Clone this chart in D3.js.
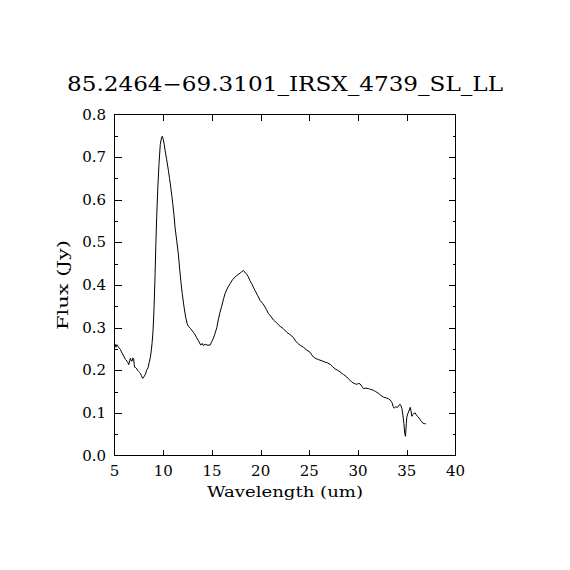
<!DOCTYPE html>
<html><head><meta charset="utf-8">
<script src="https://cdn.jsdelivr.net/npm/d3@7"></script>
<style>body{margin:0;background:#fff}svg{display:block}text{font-family:"DejaVu Serif","Liberation Serif",serif;fill:#000}</style>
</head><body>
<svg id="c" width="570" height="570"></svg>
<script>
const title = "85.2464\u221269.3101_IRSX_4739_SL_LL";
const xLabel = "Wavelength (um)";
const yLabel = "Flux (Jy)";
const xTicks = [5,10,15,20,25,30,35,40];
const yTicks = [0.0,0.1,0.2,0.3,0.4,0.5,0.6,0.7,0.8];
const wavelength = [5.05,5.15,5.25,5.36,5.48,5.6,5.72,5.84,5.97,6.11,6.2,6.28,6.37,6.46,6.55,6.63,6.72,6.8,6.88,6.97,7.02,7.07,7.18,7.3,7.39,7.48,7.56,7.65,7.75,7.83,7.9,8.0,8.16,8.3,8.44,8.56,8.68,8.77,8.85,8.95,9.05,9.16,9.25,9.33,9.45,9.57,9.7,9.82,9.91,10.0,10.1,10.19,10.35,10.53,10.65,10.77,10.88,10.98,11.1,11.21,11.38,11.55,11.68,11.8,11.95,12.07,12.14,12.3,12.45,12.58,12.8,13.0,13.2,13.44,13.6,13.85,14.0,14.1,14.3,14.5,14.81,15.0,15.15,15.3,15.5,15.65,15.83,16.0,16.2,16.35,16.6,16.86,17.1,17.38,17.6,17.89,18.05,18.23,18.45,18.6,18.74,18.9,19.09,19.25,19.43,19.7,19.94,20.2,20.46,20.6,20.8,21.0,21.31,21.6,22.0,22.3,22.69,23.0,23.36,23.6,23.88,24.1,24.39,24.7,25.08,25.25,25.42,25.7,25.93,26.3,26.62,26.9,27.13,27.4,27.65,27.9,28.16,28.5,28.85,29.1,29.36,29.6,29.87,30.05,30.21,30.4,30.55,30.8,31.06,31.3,31.58,31.8,32.09,32.35,32.61,32.9,33.12,33.3,33.47,33.6,33.7,33.85,34.04,34.2,34.32,34.42,34.5,34.6,34.7,34.8,34.87,34.95,35.0,35.1,35.18,35.35,35.45,35.52,35.6,35.69,35.86,35.98,36.1,36.25,36.38,36.5,36.65,36.8,36.96];
const flux = [0.262,0.254,0.260,0.256,0.252,0.249,0.243,0.238,0.232,0.226,0.224,0.221,0.218,0.213,0.222,0.228,0.222,0.221,0.229,0.226,0.214,0.207,0.206,0.203,0.199,0.197,0.195,0.193,0.188,0.184,0.181,0.184,0.190,0.200,0.206,0.218,0.230,0.245,0.262,0.29,0.34,0.42,0.50,0.56,0.63,0.685,0.73,0.745,0.749,0.742,0.73,0.716,0.695,0.669,0.65,0.630,0.610,0.591,0.565,0.536,0.505,0.473,0.44,0.411,0.38,0.36,0.348,0.325,0.310,0.303,0.298,0.292,0.286,0.276,0.270,0.259,0.263,0.258,0.261,0.259,0.259,0.268,0.275,0.285,0.300,0.318,0.336,0.350,0.368,0.380,0.393,0.403,0.412,0.419,0.423,0.428,0.431,0.434,0.428,0.424,0.419,0.410,0.403,0.395,0.387,0.375,0.364,0.357,0.348,0.342,0.333,0.328,0.318,0.312,0.303,0.298,0.289,0.284,0.277,0.268,0.262,0.258,0.254,0.248,0.242,0.236,0.231,0.227,0.225,0.222,0.219,0.217,0.214,0.208,0.203,0.200,0.196,0.190,0.184,0.178,0.172,0.169,0.167,0.169,0.168,0.162,0.157,0.158,0.157,0.155,0.153,0.150,0.146,0.141,0.137,0.135,0.133,0.130,0.125,0.115,0.111,0.114,0.113,0.118,0.120,0.116,0.110,0.095,0.075,0.050,0.045,0.075,0.090,0.098,0.102,0.113,0.103,0.092,0.096,0.098,0.100,0.095,0.092,0.088,0.084,0.080,0.076,0.075,0.074];

const svg = d3.select("#c");
const L = 114.5, T = 114.5, W = 341, H = 341;
const x = d3.scaleLinear().domain([5,40]).range([L, L+W]);
const y = d3.scaleLinear().domain([0,0.8]).range([T+H, T]);
const g = svg.append("g");

// frame
g.append("rect").attr("x",L).attr("y",T).attr("width",W).attr("height",H)
 .attr("fill","none").attr("stroke","#000").attr("stroke-width",1).attr("shape-rendering","crispEdges");

const yMinor = d3.range(0.05,0.8,0.1);
const tk = g.append("g").attr("stroke","#000").attr("stroke-width",1).attr("shape-rendering","crispEdges");
// x ticks bottom & top
xTicks.slice(1,-1).forEach(v=>{
  tk.append("line").attr("x1",Math.round(x(v))+0.5).attr("x2",Math.round(x(v))+0.5).attr("y1",T+H).attr("y2",T+H-6);
  tk.append("line").attr("x1",Math.round(x(v))+0.5).attr("x2",Math.round(x(v))+0.5).attr("y1",T).attr("y2",T+6);
});
yTicks.slice(1,-1).forEach(v=>{
  tk.append("line").attr("y1",Math.round(y(v))+0.5).attr("y2",Math.round(y(v))+0.5).attr("x1",L).attr("x2",L+7);
  tk.append("line").attr("y1",Math.round(y(v))+0.5).attr("y2",Math.round(y(v))+0.5).attr("x1",L+W).attr("x2",L+W-7);
});
yMinor.forEach(v=>{
  tk.append("line").attr("y1",Math.round(y(v))+0.5).attr("y2",Math.round(y(v))+0.5).attr("x1",L).attr("x2",L+3);
  tk.append("line").attr("y1",Math.round(y(v))+0.5).attr("y2",Math.round(y(v))+0.5).attr("x1",L+W).attr("x2",L+W-3);
});

// tick labels
xTicks.forEach(v=>{
  g.append("text").attr("x",x(v)).attr("y",476).attr("text-anchor","middle")
   .attr("font-size",15).text(v);
});
yTicks.forEach(v=>{
  g.append("text").attr("x",106).attr("y",y(v)+5).attr("text-anchor","end")
   .attr("font-size",15).text(v.toFixed(1));
});

// titles
g.append("text").attr("x",285).attr("y",91).attr("text-anchor","middle")
 .attr("font-size",20).attr("textLength",436).attr("lengthAdjust","spacingAndGlyphs").text(title);
g.append("text").attr("x",285).attr("y",497).attr("text-anchor","middle")
 .attr("font-size",15).attr("textLength",156).attr("lengthAdjust","spacingAndGlyphs").text(xLabel);
g.append("text").attr("transform","translate(68,285) rotate(-90)").attr("text-anchor","middle")
 .attr("font-size",15).attr("textLength",90).attr("lengthAdjust","spacingAndGlyphs").text(yLabel);

// spectrum
const pts = wavelength.map((w,i)=>[w,flux[i]]);
g.append("path").datum(pts)
 .attr("d", d3.line().x(d=>x(d[0])).y(d=>y(d[1])))
 .attr("fill","none").attr("stroke","#000").attr("stroke-width",1);
</script>
</body></html>
